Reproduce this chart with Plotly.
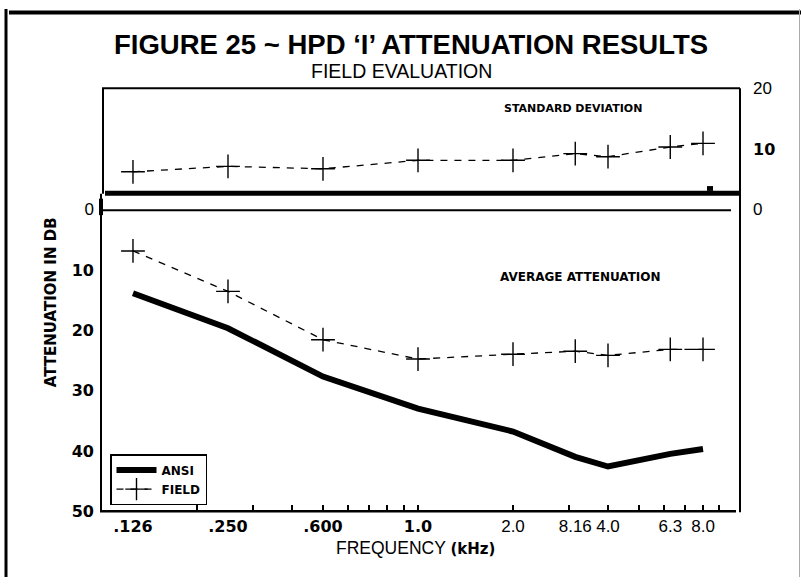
import plotly.graph_objects as go

# ---------------- data ----------------
freq_khz = [0.125, 0.25, 0.5, 1.0, 2.0, 3.15, 4.0, 6.3, 8.0]
freq_labels = [".126", ".250", ".600", "1.0", "2.0", "8.16", "4.0", "6.3", "8.0"]
freq_label_bold = [True, True, True, True, False, False, False, False, False]
ansi_atten = [13.9, 19.7, 27.7, 33.0, 36.8, 41.0, 42.6, 40.5, 39.7]
field_atten = [6.9, 13.6, 21.6, 24.8, 24.0, 23.5, 24.2, 23.2, 23.2]
field_sd = [6.2, 7.1, 6.7, 8.1, 8.1, 9.2, 8.7, 10.3, 10.9]
grid_ticks_khz = [0.2, 0.3, 0.4, 0.5, 0.6, 0.7, 0.8, 0.9, 1.0,
                  2.0, 3.0, 4.0, 5.0, 6.0, 7.0, 8.0, 9.0]
atten_ticks = [0, 10, 20, 30, 40, 50]
sd_ticks = [0, 10, 20]

W, H = 801, 587
def px(x):
    return x / W
def py(y):
    return 1 - y / H

BOLD = "<span style='font-family:DejaVu Sans;font-size:16px'><b>{}</b></span>"

def fmt(lbl, bold):
    return BOLD.format(lbl) if bold else lbl

fig = go.Figure()

fig.add_trace(go.Scatter(
    x=freq_khz, y=ansi_atten, mode="lines", name="ANSI",
    line=dict(color="black", width=6), xaxis="x", yaxis="y"))
fig.add_trace(go.Scatter(
    x=freq_khz, y=field_atten, mode="lines+markers", name="FIELD",
    line=dict(color="black", width=1.3, dash="7px,7px"),
    marker=dict(symbol="cross-thin", size=17, line=dict(color="black", width=1.4)),
    xaxis="x", yaxis="y"))
fig.add_trace(go.Scatter(
    x=freq_khz, y=field_sd, mode="lines+markers", name="FIELD SD", showlegend=False,
    line=dict(color="black", width=1.3, dash="7px,7px"),
    marker=dict(symbol="cross-thin", size=17, line=dict(color="black", width=1.4)),
    xaxis="x", yaxis="y2"))

fig.update_layout(
    width=W, height=H,
    margin=dict(l=0, r=0, t=0, b=0),
    paper_bgcolor="white", plot_bgcolor="rgba(0,0,0,0)",
    font=dict(family="Liberation Sans", color="black", size=16),
    xaxis=dict(
        type="log", domain=[px(100), px(740)], range=[-1.0076, 1.0203],
        anchor="y", showgrid=False, zeroline=False, showline=False,
        tickmode="array", tickvals=freq_khz,
        ticktext=[fmt(l, b) for l, b in zip(freq_labels, freq_label_bold)],
        ticks="", ticklabelstandoff=3,
        tickfont=dict(family="Liberation Sans", size=17, color="black"),
        minor=dict(tickmode="array", tickvals=grid_ticks_khz, ticks="inside",
                   ticklen=6, tickwidth=2, tickcolor="black", showgrid=False),
    ),
    yaxis=dict(
        domain=[py(519), py(207)], range=[50, 0], anchor="x",
        showgrid=False, zeroline=False, showline=False,
        tickmode="array", tickvals=atten_ticks,
        ticktext=[str(v) if v == 0 else BOLD.format(v) for v in atten_ticks],
        ticks="", ticklabelstandoff=5,
        tickfont=dict(family="Liberation Sans", size=17, color="black"),
    ),
    yaxis2=dict(
        domain=[py(207), py(82)], range=[0, 20], anchor="x", side="right",
        showgrid=False, zeroline=False, showline=False,
        tickmode="array", tickvals=sd_ticks,
        ticktext=[BOLD.format(v) if v == 10 else str(v) for v in sd_ticks],
        ticks="", ticklabelstandoff=12,
        tickfont=dict(family="Liberation Sans", size=17, color="black"),
    ),
    legend=dict(
        x=px(110), y=py(460), xanchor="left", yanchor="top",
        bordercolor="black", borderwidth=1.5, bgcolor="white",
        font=dict(family="DejaVu Sans", size=12, color="black", weight="bold"),
        itemwidth=40, tracegroupgap=0,
    ),
    showlegend=True,
)

# ---------------- frame lines ----------------
def hline(y, x0, x1, w, color="black"):
    fig.add_shape(type="line", xref="paper", yref="paper",
                  x0=px(x0), x1=px(x1), y0=py(y), y1=py(y),
                  line=dict(color=color, width=w))

def vline(x, y0, y1, w, color="black"):
    fig.add_shape(type="line", xref="paper", yref="paper",
                  x0=px(x), x1=px(x), y0=py(y0), y1=py(y1),
                  line=dict(color=color, width=w))

vline(6, 0, 587, 3)
hline(3.5, 9, 801, 4)
vline(799.5, 0, 587, 1, "#aaaaaa")
hline(82, 102, 740, 2)
vline(103, 82, 191, 2)
hline(190.5, 105, 740, 5)
hline(208, 101, 731, 2)
vline(101, 191, 519, 2)
vline(101, 196, 213, 4)
vline(740, 82, 520, 2)
hline(519, 100, 736, 2.5)
fig.add_shape(type="rect", xref="paper", yref="paper",
              x0=px(707), x1=px(713), y0=py(188), y1=py(183),
              fillcolor="black", line=dict(width=0))

# ---------------- text ----------------
def note(x, y, text, size, family="Liberation Sans", bold=False, angle=0):
    fig.add_annotation(x=px(x), y=py(y), xref="paper", yref="paper",
                       text=f"<b>{text}</b>" if bold else text, showarrow=False,
                       textangle=angle, xanchor="center", yanchor="middle",
                       font=dict(family=family, size=size, color="black"))

note(411, 37, "FIGURE 25 ~ HPD ‘I’ ATTENUATION RESULTS", 27.5, bold=True)
note(401, 64, "FIELD EVALUATION", 19.5)
note(573, 103, "STANDARD DEVIATION", 11, family="DejaVu Sans", bold=True)
note(580, 277, "AVERAGE ATTENUATION", 12, family="DejaVu Sans", bold=True)
note(51, 303, "ATTENUATION IN DB", 15, family="DejaVu Sans", bold=True, angle=-90)
note(415, 557, "FREQUENCY <span style='font-family:DejaVu Sans;font-size:15px'><b>(kHz)</b></span>", 17.5)

fig.write_html("out.html")
